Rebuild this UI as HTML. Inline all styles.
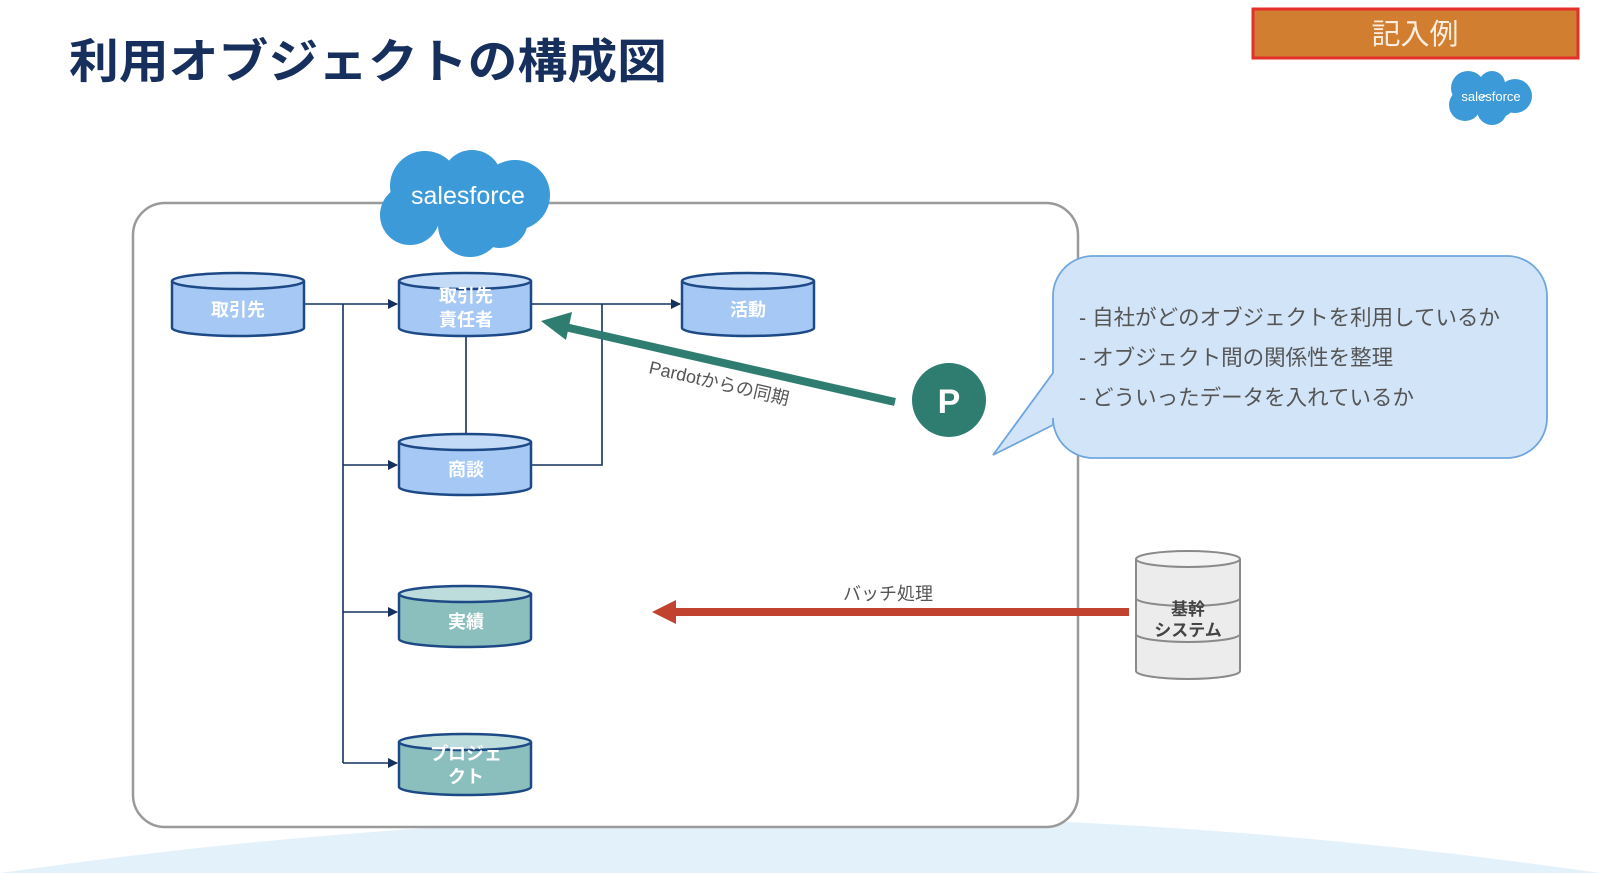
<!DOCTYPE html>
<html><head><meta charset="utf-8"><style>
html,body{margin:0;padding:0;background:#fff;width:1600px;height:873px;overflow:hidden;}
svg{display:block;font-family:"Liberation Sans","Noto Sans CJK JP",sans-serif;}
</style></head><body>
<svg width="1600" height="873" viewBox="0 0 1600 873" xmlns="http://www.w3.org/2000/svg">
<defs>
<marker id="ah" markerWidth="10" markerHeight="10" refX="9" refY="5" orient="auto" markerUnits="userSpaceOnUse"><path d="M0,0 L10,5 L0,10 z" fill="#13305e"/></marker>
</defs>
<!-- bottom arc -->
<path d="M0,873 Q800,758 1600,873 Z" fill="#e3f1fa"/>
<!-- title -->
<text x="69" y="78" font-size="47" font-weight="bold" fill="#172f5c" textLength="598" lengthAdjust="spacingAndGlyphs">利用オブジェクトの構成図</text>
<!-- 記入例 -->
<rect x="1253" y="9" width="325" height="49" fill="#d27e30" stroke="#e3302a" stroke-width="3"/>
<text x="1415" y="44" font-size="29" fill="#fbeee0" text-anchor="middle">記入例</text>
<!-- small cloud -->
<g fill="#3d9ad8">
<circle cx="1468" cy="88" r="17"/><circle cx="1492" cy="84" r="13"/><circle cx="1515" cy="96" r="17"/><circle cx="1492" cy="110" r="15"/><circle cx="1465" cy="105" r="16"/><circle cx="1500" cy="102" r="15"/>
</g>
<text x="1491" y="101" font-size="13" fill="#fff" text-anchor="middle">salesforce</text>
<!-- main container -->
<rect x="133" y="203" width="945" height="624" rx="32" fill="#fff" stroke="#9a9a9a" stroke-width="2.5"/>
<!-- big cloud -->
<g fill="#3d9ad8">
<circle cx="425" cy="186" r="35"/><circle cx="472" cy="180" r="30"/><circle cx="515" cy="195" r="35"/><circle cx="470" cy="225" r="32"/><circle cx="410" cy="215" r="30"/><circle cx="500" cy="220" r="28"/>
</g>
<text x="468" y="204" font-size="25" fill="#fff" text-anchor="middle">salesforce</text>
<!-- connectors -->
<g stroke="#13305e" stroke-width="1.6" fill="none">
<path d="M305,304 H397" marker-end="url(#ah)"/>
<path d="M343,304 V763"/>
<path d="M343,465 H397" marker-end="url(#ah)"/>
<path d="M343,612 H397" marker-end="url(#ah)"/>
<path d="M343,763 H397" marker-end="url(#ah)"/>
<path d="M532,304 H680" marker-end="url(#ah)"/>
<path d="M602,304 V465 H532"/>
<path d="M466,336 V435"/>
</g>
<!-- cylinders -->
<g stroke="#1d4a86" stroke-width="2.5">
<g fill="#a6c8f4"><path d="M172,281 V328 A66,8 0 0 0 304,328 V281"/><ellipse cx="238" cy="281" rx="66" ry="8" fill="#c4dbf8"/></g>
<g fill="#a6c8f4"><path d="M399,281 V328 A66,8 0 0 0 531,328 V281"/><ellipse cx="465" cy="281" rx="66" ry="8" fill="#c4dbf8"/></g>
<g fill="#a6c8f4"><path d="M682,281 V328 A66,8 0 0 0 814,328 V281"/><ellipse cx="748" cy="281" rx="66" ry="8" fill="#c4dbf8"/></g>
<g fill="#a6c8f4"><path d="M399,442 V487 A66,8 0 0 0 531,487 V442"/><ellipse cx="465" cy="442" rx="66" ry="8" fill="#c4dbf8"/></g>
<g fill="#8bbfbd"><path d="M399,594 V639 A66,8 0 0 0 531,639 V594"/><ellipse cx="465" cy="594" rx="66" ry="8" fill="#bddcdc"/></g>
<g fill="#8bbfbd"><path d="M399,742 V787 A66,8 0 0 0 531,787 V742"/><ellipse cx="465" cy="742" rx="66" ry="8" fill="#bddcdc"/></g>
</g>
<g fill="#fff" font-size="18" font-weight="bold" text-anchor="middle">
<text x="238" y="316">取引先</text>
<text x="466" y="302">取引先</text><text x="466" y="326">責任者</text>
<text x="748" y="316">活動</text>
<text x="466" y="476">商談</text>
<text x="466" y="628">実績</text>
<text x="466" y="760">プロジェ</text><text x="466" y="783">クト</text>
</g>
<!-- green arrow -->
<line x1="895" y1="402" x2="565" y2="327" stroke="#2f7c70" stroke-width="8"/>
<polygon points="541,321 572,312 566,340" fill="#2f7c70"/>
<text transform="translate(648,373) rotate(13)" font-size="18" fill="#555">Pardotからの同期</text>
<circle cx="949" cy="400" r="37" fill="#2f7c70"/>
<text x="949" y="413" font-size="34" font-weight="bold" fill="#fff" text-anchor="middle">P</text>
<!-- speech bubble -->
<path d="M1093,256 H1507 A40,40 0 0 1 1547,296 V418 A40,40 0 0 1 1507,458 H1093 A40,40 0 0 1 1053,418 V425 L993,455 L1053,373 V296 A40,40 0 0 1 1093,256 Z" fill="#d2e4f8" stroke="#6fa6de" stroke-width="1.8"/>
<g font-size="21.5" fill="#555">
<text x="1079" y="325">- 自社がどのオブジェクトを利用しているか</text>
<text x="1079" y="365">- オブジェクト間の関係性を整理</text>
<text x="1079" y="405">- どういったデータを入れているか</text>
</g>
<!-- red arrow -->
<line x1="1129" y1="612" x2="670" y2="612" stroke="#c1432f" stroke-width="8"/>
<polygon points="652,612 676,600 676,624" fill="#c1432f"/>
<text x="888" y="600" font-size="18" fill="#555" text-anchor="middle">バッチ処理</text>
<!-- 基幹システム -->
<g stroke="#8a8a8a" stroke-width="2" fill="#ececec">
<path d="M1136,559 V671 A52,8 0 0 0 1240,671 V559"/>
<ellipse cx="1188" cy="559" rx="52" ry="8" fill="#f4f4f4"/>
<path d="M1136,598 A52,8 0 0 0 1240,598" fill="none"/>
<path d="M1136,634 A52,8 0 0 0 1240,634" fill="none"/>
</g>
<text x="1188" y="615" font-size="17" font-weight="bold" fill="#444" text-anchor="middle">基幹</text>
<text x="1188" y="636" font-size="17" font-weight="bold" fill="#444" text-anchor="middle">システム</text>
</svg>
</body></html>
